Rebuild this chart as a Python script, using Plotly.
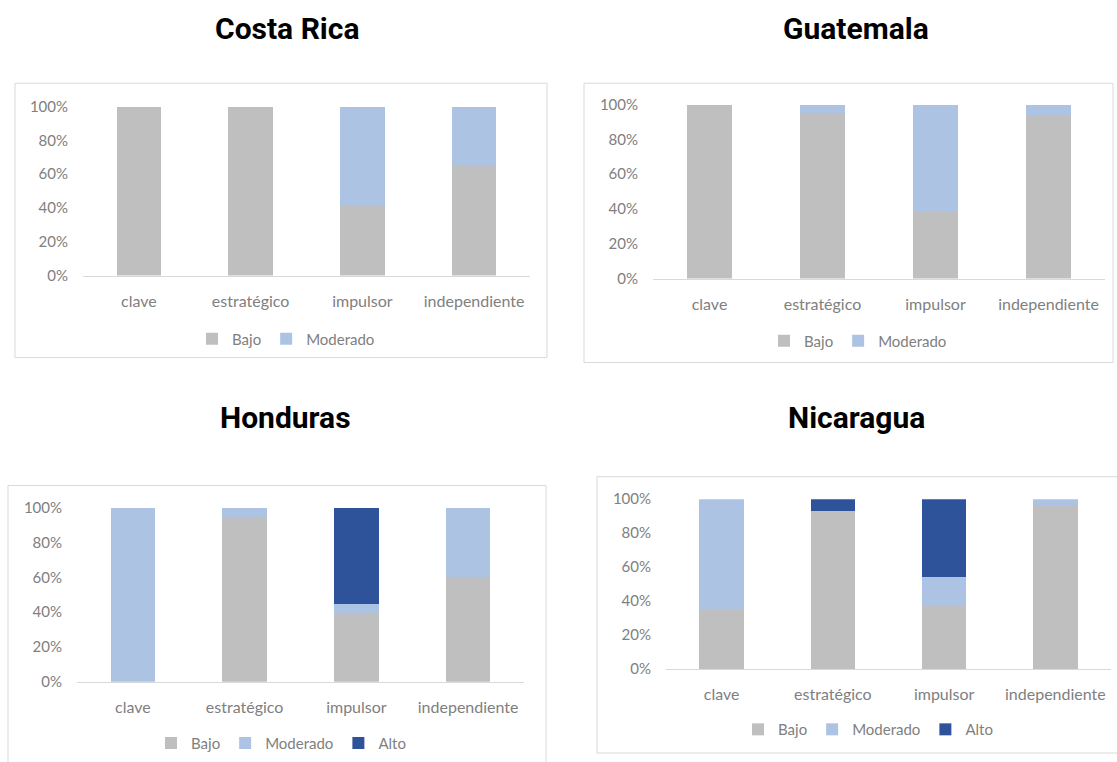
import plotly.graph_objects as go

# categories and series (percent of each category)
categorias = ["clave", "estratégico", "impulsor", "independiente"]
paises = ["Costa Rica", "Guatemala", "Honduras", "Nicaragua"]

cr_bajo = [100, 100, 42, 65]
cr_moderado = [0, 0, 58, 35]

gt_bajo = [100, 95, 38, 94]
gt_moderado = [0, 5, 62, 6]

hn_bajo = [0, 95, 39, 60]
hn_moderado = [100, 5, 6, 40]
hn_alto = [0, 0, 55, 0]

ni_bajo = [35, 93, 37, 96]
ni_moderado = [65, 0, 17, 4]
ni_alto = [0, 7, 46, 0]

y_ticks = [0, 20, 40, 60, 80, 100]
y_ticktext = ["0%", "20%", "40%", "60%", "80%", "100%"]

colores = {"Bajo": "#bfbfbf", "Moderado": "#adc3e4", "Alto": "#2f539b"}

W, H = 1117, 762

def px(x):
    return x / W

def py(y):
    return 1 - y / H

# plot areas in pixels: (x0, x1, ytop, ybottom)
areas = [
    (83, 530, 99, 272),
    (653, 1105, 97, 275),
    (77, 524, 510, 688),
    (666, 1111, 501, 675),
]
# outer chart boxes in pixels
cajas = [
    (15, 547, 75, 356),
    (584, 1113, 75, 361),
    (8, 546, 487, 780),
    (597, 1125, 478, 761),
]
titulos_pos = [(287, 19), (856, 19), (285, 417), (856, 417)]
leyenda_pos = [(286, 337), (858, 339), (281, 751), (868, 737)]

series = [
    [("Bajo", cr_bajo), ("Moderado", cr_moderado)],
    [("Bajo", gt_bajo), ("Moderado", gt_moderado)],
    [("Bajo", hn_bajo), ("Moderado", hn_moderado), ("Alto", hn_alto)],
    [("Bajo", ni_bajo), ("Moderado", ni_moderado), ("Alto", ni_alto)],
]

gris = "#808080"

fig = go.Figure()
layout = {}
shapes = []
annotations = []

for i, (pais, datos) in enumerate(zip(paises, series)):
    n = "" if i == 0 else str(i + 1)
    leg = "legend" + n
    for nombre, valores in datos:
        fig.add_trace(go.Bar(
            x=categorias, y=valores, name=nombre,
            marker_color=colores[nombre], marker_line_width=0,
            xaxis="x" + n, yaxis="y" + n, legend=leg,
        ))
    x0, x1, yt, yb = areas[i]
    layout["xaxis" + n] = dict(
        domain=[px(x0), px(x1)], anchor="y" + n,
        showline=True, linecolor="#d9d9d9", linewidth=1,
        ticks="", showgrid=False, ticklabelstandoff=11,
        tickfont=dict(family="Lato", size=16, color=gris),
        fixedrange=True,
    )
    layout["yaxis" + n] = dict(
        domain=[py(yb), py(yt)], anchor="x" + n,
        range=[0, 100], tickvals=y_ticks, ticktext=y_ticktext,
        showgrid=False, zeroline=False, showline=False, ticks="",
        ticklabelstandoff=14,
        tickfont=dict(family="Lato", size=15, color=gris),
        fixedrange=True,
    )
    lx, ly = leyenda_pos[i]
    layout[leg] = dict(
        orientation="h", x=px(lx), xanchor="center",
        y=py(ly), yanchor="middle", traceorder="normal",
        font=dict(family="Lato", size=15, color=gris),
        bgcolor="rgba(0,0,0,0)", itemwidth=30,
    )
    bx0, bx1, by0, by1 = cajas[i]
    shapes.append(dict(
        type="rect", xref="paper", yref="paper",
        x0=px(bx0), x1=px(bx1), y0=py(by1), y1=py(by0),
        line=dict(color="#d9d9d9", width=1), layer="below",
    ))
    tx, ty = titulos_pos[i]
    annotations.append(dict(
        text="<b>" + pais + "</b>", xref="paper", yref="paper",
        x=px(tx), y=py(ty), xanchor="center", yanchor="middle",
        showarrow=False, font=dict(family="Roboto", size=30, color="#000000"),
    ))

fig.update_layout(
    width=W, height=H,
    margin=dict(l=0, r=0, t=0, b=0),
    paper_bgcolor="white", plot_bgcolor="white",
    barmode="stack", bargap=0.6,
    showlegend=True,
    shapes=shapes, annotations=annotations,
    **layout,
)

fig.write_html(
    "out.html",
    config={"displayModeBar": False},
    post_script="document.body.style.margin='0';document.body.style.overflow='hidden';",
)
